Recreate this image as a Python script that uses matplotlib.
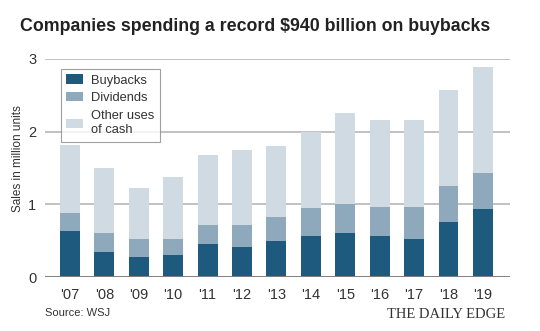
import matplotlib.pyplot as plt
import numpy as np

years = ["'07", "'08", "'09", "'10", "'11", "'12", "'13", "'14", "'15", "'16", "'17", "'18", "'19"]
buybacks = [0.64, 0.35, 0.28, 0.31, 0.45, 0.41, 0.50, 0.56, 0.60, 0.56, 0.53, 0.76, 0.94]
dividends = [0.24, 0.26, 0.24, 0.22, 0.27, 0.31, 0.32, 0.39, 0.40, 0.41, 0.44, 0.49, 0.49]
other = [0.94, 0.89, 0.70, 0.84, 0.96, 1.03, 0.98, 1.04, 1.25, 1.19, 1.19, 1.32, 1.46]

col_buy = "#1e5a7d"
col_div = "#8ea8bc"
col_oth = "#d0dae3"

plt.rcParams['font.family'] = ['Liberation Sans', 'DejaVu Sans']

fig = plt.figure(figsize=(5.4, 3.31), dpi=100)
ax = fig.add_axes([0.083, 0.163, 0.861, 0.659])

x = np.arange(len(years))
w = 0.58
b1 = np.array(buybacks)
b2 = b1 + np.array(dividends)
ax.bar(x, buybacks, w, color=col_buy, label="Buybacks", zorder=3)
ax.bar(x, dividends, w, bottom=b1, color=col_div, label="Dividends", zorder=3)
ax.bar(x, other, w, bottom=b2, color=col_oth, label="Other uses\nof cash", zorder=3)

ax.set_ylim(0, 3)
ax.set_xlim(-0.73, 12.78)
ax.set_yticks([0, 1, 2, 3])
ax.set_xticks(x)
ax.set_xticklabels(years)
for g in [1, 2, 3]:
    ax.axhline(g, color="#b0b0b0", lw=1.1, zorder=1)
ax.axhline(0, color="#808080", lw=1.4, zorder=4)
for s in ax.spines.values():
    s.set_visible(False)
ax.tick_params(length=0, labelsize=10.5, colors="#333333", pad=8)
ax.tick_params(axis='y', pad=6)
fig.text(0.033, 0.52, "Sales in million units", fontsize=8.5, color="#333333",
         rotation=90, ha="center", va="center")

leg = ax.legend(loc="upper left", bbox_to_anchor=(0.02, 0.985), fontsize=9.3,
                frameon=True, fancybox=False, edgecolor="#888888",
                handlelength=1.3, handleheight=0.7, borderpad=0.45, labelspacing=0.45,
                handletextpad=0.6)
leg.get_frame().set_linewidth(0.8)
for t in leg.get_texts():
    t.set_color("#333333")

fig.text(0.037, 0.905, "Companies spending a record $940 billion on buybacks",
         fontsize=12.8, fontweight="bold", color="#222222")
fig.text(0.083, 0.045, "Source: WSJ", fontsize=8, color="#333333")
fig.text(0.935, 0.04, "THE DAILY EDGE", fontsize=10.5, family="Liberation Serif",
         color="#333333", ha="right")

fig.savefig("out.png", dpi=100)
